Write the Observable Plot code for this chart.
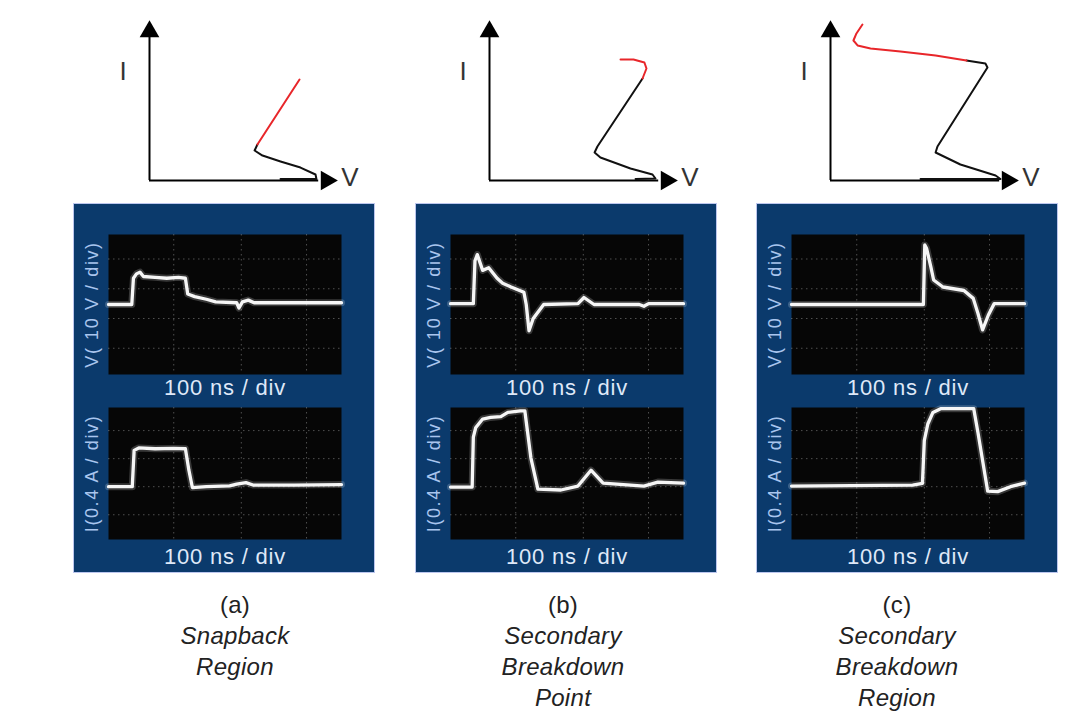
<!DOCTYPE html>
<html>
<head>
<meta charset="utf-8">
<script src="https://cdn.jsdelivr.net/npm/d3@7"></script>
<script src="https://cdn.jsdelivr.net/npm/@observablehq/plot@0.6"></script>
<style>
  body { margin: 0; background: #fff; }
  #root { position: relative; width: 1078px; height: 720px; overflow: hidden; background: #fff;
          font-family: "Liberation Sans", Arial, sans-serif; }
  .iv { position: absolute; top: 0; }
  .panel { position: absolute; top: 203px; width: 302px; height: 370px; background: #0b3a6c;
           border: 1.5px solid #bcc6ee; box-sizing: border-box; }
  .panel svg { display: block; }
  .panel text.tl { letter-spacing: 0.8px; }
  .panel text.yl { letter-spacing: 1.6px; }
  .cap { position: absolute; top: 589px; width: 300px; text-align: center; font-size: 24px;
         line-height: 31px; color: #222; letter-spacing: 0.3px; }
  .cap .t { font-style: italic; }
</style>
</head>
<body>
<div id="root"></div>
<script>
// ---------- data ----------
const captionLetters = ["(a)", "(b)", "(c)"];
const captionTitles = [["Snapback", "Region"], ["Secondary", "Breakdown", "Point"], ["Secondary", "Breakdown", "Region"]];
const voltageLabel = "V( 10 V / div)";
const currentLabel = "I(0.4 A / div)";
const timeLabel = "100 ns / div";
const axisMax = 100;

// I-V sketches (arbitrary units, 0..100)
const ivBlackA = [[69.7,0.9],[88.8,0.9],[88.3,3.75],[80.3,8.1],[69.7,11.9],[60.1,15.6],[55.9,18.75],[57.4,22.5]];
const ivRedA   = [[57.4,22.5],[79.8,63.1]];
const ivBlackB = [[77.7,0.9],[88.3,1.25],[86.7,3.75],[75,7.5],[59,14.4],[55.9,17.5],[57.4,21.25],[81.4,63.75]];
const ivRedB   = [[81.4,63.75],[83.5,70],[82.4,73.75],[76.6,75.6],[69.7,75.6]];
const ivBlackC = [[47.9,0.9],[90.4,0.9],[87.8,3.1],[69.1,10],[55.9,17.5],[56.9,21.25],[83.5,70.6],[82.4,73.1],[72.3,75]];
const ivRedC   = [[72.3,75],[55.9,78.1],[37.2,80.6],[21.3,82.5],[14.4,84.4],[12.2,87.5],[13.8,91.9],[17,97.5]];

// oscilloscope traces (x: divisions 0..10, y: divisions -4..4)
const scopeVA = [[0,0],[1.0,0],[1.07,1.5],[1.2,1.75],[1.35,1.85],[1.5,1.6],[2.0,1.55],[2.5,1.5],[3.0,1.55],[3.3,1.5],[3.4,0.6],[3.7,0.45],[4.2,0.3],[4.6,0.15],[5.5,0.1],[5.6,-0.2],[5.75,0.15],[6.0,0.25],[6.25,0.1],[8,0.1],[10,0.1]];
const scopeIA = [[0,-0.8],[1.02,-0.8],[1.1,1.4],[1.3,1.55],[2,1.5],[2.8,1.52],[3.3,1.5],[3.45,0.2],[3.6,-0.85],[4.2,-0.8],[5.2,-0.75],[5.5,-0.65],[5.9,-0.55],[6.2,-0.7],[8,-0.7],[10,-0.67]];
const scopeVB = [[0,0.05],[0.98,0.05],[1.05,2.5],[1.15,2.85],[1.38,1.95],[1.64,2.1],[2.0,1.5],[2.24,1.22],[2.6,1.0],[3.15,0.7],[3.25,0],[3.37,-1.5],[3.55,-0.8],[4.0,0],[5.47,0.05],[5.73,0.4],[6.16,0.0],[8.1,0.0],[8.3,-0.1],[8.5,0.05],[10,0.05]];
const scopeIB = [[0,-0.82],[0.93,-0.82],[0.98,2.2],[1.08,2.77],[1.38,3.3],[1.72,3.4],[2.16,3.45],[2.46,3.7],[3.0,3.8],[3.19,3.8],[3.45,0.95],[3.75,-0.95],[4.74,-1.0],[5.47,-0.76],[6.03,0.2],[6.55,-0.58],[8.3,-0.76],[8.9,-0.52],[10,-0.58]];
const scopeVC = [[0,0],[5.66,0],[5.72,3.4],[5.8,3.2],[5.98,2.15],[6.1,1.4],[6.5,1.0],[7.4,0.8],[7.8,0.35],[8.0,-0.5],[8.2,-1.45],[8.45,-0.6],[8.7,0.05],[10,0.05]];
const scopeIC = [[0,-0.76],[5.2,-0.7],[5.62,-0.6],[5.7,2.0],[5.85,3.0],[6.07,3.7],[6.4,3.93],[7.82,3.93],[8.0,2.5],[8.42,-1.07],[8.85,-1.1],[9.4,-0.8],[10,-0.58]];

const gridX = [2.8, 5.7, 8.5];
const gridY = [2.6, 0.9, -0.8, -2.5];

// ---------- layout ----------
const ivLefts = [70, 410, 751];
const panelLefts = [73, 415, 756];
const capCenters = [235, 563, 897];

const ivData = [[ivBlackA, ivRedA], [ivBlackB, ivRedB], [ivBlackC, ivRedC]];
const scopeData = [[scopeVA, scopeIA], [scopeVB, scopeIB], [scopeVC, scopeIC]];

const root = document.getElementById("root");

function ivPlot(black, red) {
  const X = d => d[0], Y = d => d[1];
  return Plot.plot({
    width: 300, height: 200,
    marginLeft: 79, marginRight: 33, marginTop: 20, marginBottom: 20,
    x: {domain: [0, axisMax], axis: null},
    y: {domain: [0, axisMax], axis: null},
    style: {background: "transparent", overflow: "visible"},
    marks: [
      Plot.ruleX([0], {y1: 0, y2: 90, stroke: "#000", strokeWidth: 2}),
      Plot.ruleY([0], {x1: 0, x2: 90, stroke: "#000", strokeWidth: 2}),
      Plot.dot([[0, axisMax]], {x: X, y: Y, symbol: "triangle", r: 7.3, fill: "#000", stroke: null, dy: 11}),
      Plot.dot([[axisMax, 0]], {x: X, y: Y, symbol: "triangle", r: 7.3, fill: "#000", stroke: null, rotate: 90, dx: -11}),
      Plot.line(black, {x: X, y: Y, stroke: "#111", strokeWidth: 2}),
      Plot.line(red, {x: X, y: Y, stroke: "#e8262a", strokeWidth: 2}),
      Plot.text(["I"], {frameAnchor: "top-left", dx: -30, dy: 41, fontSize: 26, fill: "#333", fontFamily: "Liberation Sans"}),
      Plot.text(["V"], {frameAnchor: "bottom-right", dx: 21, dy: 5, fontSize: 26, fill: "#333", fontFamily: "Liberation Sans"})
    ]
  });
}

function scopePlot(data, label, isTop) {
  const X = d => d[0], Y = d => d[1];
  const p = Plot.plot({
    width: 299, height: isTop ? 195 : 172,
    marginLeft: 34, marginRight: 32,
    marginTop: isTop ? 30 : 8, marginBottom: isTop ? 25 : 32,
    x: {domain: [0, 10], axis: null},
    y: {domain: [-4, 4], axis: null},
    style: {background: "transparent", overflow: "visible"},
    marks: [
      Plot.frame({fill: "#060606", stroke: null}),
      Plot.gridX(gridX, {stroke: "#9a9a9a", strokeDasharray: "1.5,3.5", strokeOpacity: 0.5}),
      Plot.gridY(gridY, {stroke: "#9a9a9a", strokeDasharray: "1.5,3.5", strokeOpacity: 0.5}),
      Plot.line(data, {x: X, y: Y, stroke: "#ffffff", strokeWidth: 7, strokeOpacity: 0.2, strokeLinejoin: "round"}),
      Plot.line(data, {x: X, y: Y, stroke: "#f6f6f6", strokeWidth: 3.3, strokeLinejoin: "round"}),
      Plot.text([timeLabel], {frameAnchor: "bottom", dy: isTop ? 20 : 24, fontSize: 22, fill: "#dfe8f8",
                              fontFamily: "Liberation Sans"}),
      Plot.text([label], {frameAnchor: "left", textAnchor: "middle", dx: -16, rotate: -90, fontSize: 18, fill: "#a9c5ee",
                          fontFamily: "Liberation Sans"})
    ]
  });
  p.querySelectorAll("text").forEach(t => {
    if (t.textContent === timeLabel) t.classList.add("tl");
    if (t.textContent === label) t.classList.add("yl");
  });
  return p;
}

for (let i = 0; i < 3; i++) {
  const ivWrap = document.createElement("div");
  ivWrap.className = "iv";
  ivWrap.style.left = ivLefts[i] + "px";
  ivWrap.appendChild(ivPlot(ivData[i][0], ivData[i][1]));
  root.appendChild(ivWrap);

  const panel = document.createElement("div");
  panel.className = "panel";
  panel.style.left = panelLefts[i] + "px";
  panel.appendChild(scopePlot(scopeData[i][0], voltageLabel, true));
  panel.appendChild(scopePlot(scopeData[i][1], currentLabel, false));
  root.appendChild(panel);

  const cap = document.createElement("div");
  cap.className = "cap";
  cap.style.left = (capCenters[i] - 150) + "px";
  const l = document.createElement("div");
  l.textContent = captionLetters[i];
  cap.appendChild(l);
  for (const t of captionTitles[i]) {
    const d = document.createElement("div");
    d.className = "t";
    d.textContent = t;
    cap.appendChild(d);
  }
  root.appendChild(cap);
}
</script>
</body>
</html>
